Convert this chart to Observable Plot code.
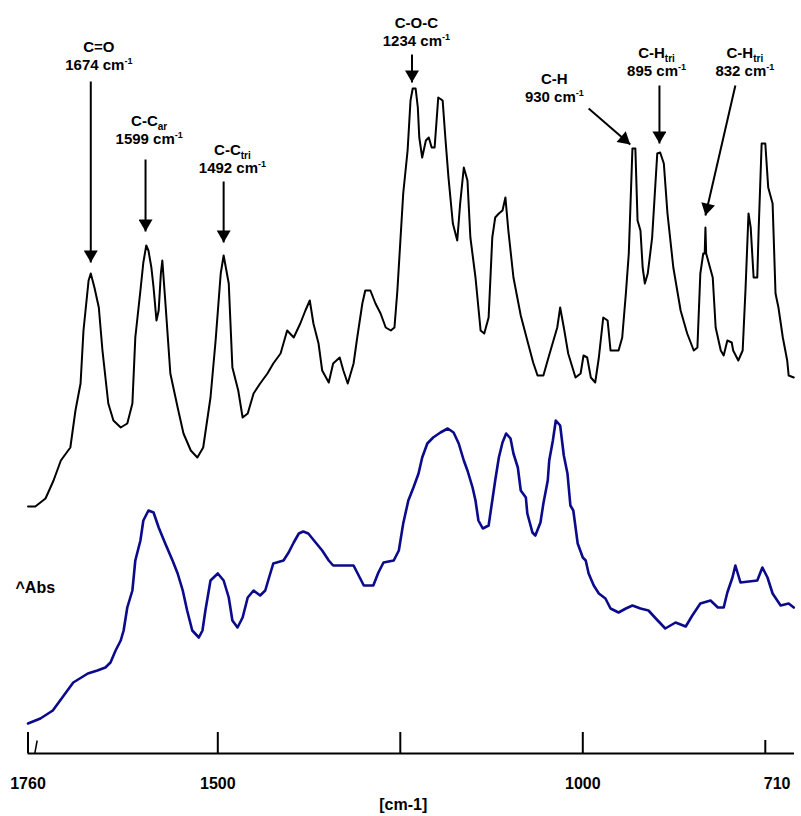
<!DOCTYPE html>
<html>
<head>
<meta charset="utf-8">
<script src="https://cdn.jsdelivr.net/npm/d3@7"></script>
<script src="https://cdn.jsdelivr.net/npm/@observablehq/plot@0.6"></script>
<style>
  html, body { margin: 0; padding: 0; background: #fff; }
  #chart svg { display: block; }
</style>
</head>
<body>
<div id="chart"></div>
<script>
// Upper spectrum (black): wavenumber [cm-1] and absorbance (arbitrary units, offset)
const blackWavenumber = [1760,1750,1736,1725,1715,1702,1695,1688,1684,1677,1674,1669,1663,1658,1650,1643,1633,1624,1617,1613,1606,1602,1598,1595,1591,1588,1584,1581,1578,1576,1572,1565,1555,1547,1537,1528,1520,1510,1503,1496,1492,1485,1480,1472,1466,1459,1451,1442,1432,1424,1414,1405,1396,1387,1380,1374,1369,1362,1357,1348,1342,1333,1328,1322,1314,1309,1302,1298,1291,1284,1277,1270,1263,1258,1254,1246,1240,1236,1233,1229,1226,1224,1220,1215,1211,1207,1203,1199,1198,1192,1188,1184,1178,1172,1168,1163,1158,1154,1147,1140,1135,1129,1124,1120,1115,1110,1106,1102,1095,1085,1076,1068,1062,1054,1047,1035,1031,1026,1020,1010,1003,999,994,989,983,978,972,966,962,951,946,941,937,932,928,925,921,918,915,911,905,898,894,889,884,876,866,857,848,843,839,835,833,832,831,822,818,811,807,802,796,794,787,781,777,773,770,766,761,759,755,750,746,740,736,732,726,720,718,711];
const blackAbsorbance = [2.47,2.47,2.55,2.73,2.93,3.06,3.43,3.70,4.23,4.73,4.80,4.66,4.46,4.03,3.50,3.33,3.26,3.30,3.50,4.16,4.63,4.91,5.08,5.03,4.86,4.66,4.33,4.43,4.80,4.93,4.53,3.80,3.46,3.20,3.03,2.96,3.06,3.56,4.13,4.80,4.98,4.70,3.86,3.63,3.36,3.40,3.60,3.70,3.80,3.90,4.00,4.23,4.16,4.30,4.43,4.53,4.30,4.10,3.83,3.71,3.90,3.96,3.83,3.70,3.90,4.16,4.50,4.63,4.63,4.50,4.40,4.26,4.23,4.26,4.63,5.60,6.03,6.53,6.65,6.65,6.46,6.16,5.96,6.13,6.16,6.06,6.06,6.46,6.56,6.53,6.13,5.76,5.30,5.13,5.50,5.86,5.73,5.16,4.76,4.23,4.20,4.36,5.16,5.36,5.40,5.43,5.56,5.23,4.76,4.38,4.13,3.91,3.78,3.78,3.96,4.26,4.46,4.26,4.00,3.76,3.80,3.98,3.96,3.76,3.71,3.96,4.36,4.33,4.03,4.03,4.16,4.60,5.00,6.05,6.05,5.33,5.23,4.86,4.70,4.80,5.16,6.00,6.01,5.90,5.40,4.86,4.43,4.20,4.03,4.06,4.80,5.00,5.00,5.26,5.00,4.76,4.26,4.03,3.98,4.13,4.11,4.03,3.93,4.03,4.66,5.40,5.26,4.76,4.76,5.26,6.10,6.10,5.66,5.50,4.60,4.46,4.16,3.93,3.78,3.76];

// Lower spectrum (blue)
const blueWavenumber = [1760,1743,1726,1713,1698,1678,1665,1654,1647,1640,1633,1629,1624,1617,1613,1606,1602,1595,1588,1581,1572,1562,1555,1548,1542,1535,1526,1521,1517,1510,1500,1492,1485,1480,1473,1466,1459,1451,1442,1435,1431,1424,1410,1403,1396,1389,1383,1376,1366,1357,1348,1342,1314,1307,1300,1287,1280,1273,1259,1252,1246,1239,1232,1225,1220,1213,1205,1195,1185,1177,1170,1163,1158,1151,1147,1143,1137,1129,1124,1120,1115,1110,1105,1099,1095,1089,1085,1078,1076,1069,1065,1058,1054,1048,1046,1041,1037,1031,1026,1021,1017,1013,1007,1000,996,992,985,978,969,962,951,941,932,921,910,900,887,873,859,850,839,825,815,807,802,795,791,784,761,754,747,740,729,718,711];
const blueAbsorbance = [0.30,0.35,0.43,0.56,0.71,0.80,0.83,0.86,0.91,1.03,1.13,1.23,1.46,1.63,1.93,2.13,2.33,2.43,2.41,2.26,2.10,1.93,1.80,1.63,1.43,1.23,1.16,1.23,1.43,1.73,1.80,1.73,1.56,1.33,1.26,1.36,1.56,1.63,1.58,1.63,1.73,1.90,1.93,2.01,2.11,2.20,2.22,2.20,2.11,2.03,1.93,1.88,1.88,1.78,1.68,1.68,1.81,1.91,1.93,2.03,2.30,2.53,2.66,2.80,2.96,3.10,3.16,3.21,3.25,3.21,3.10,2.93,2.83,2.66,2.53,2.33,2.25,2.28,2.53,2.73,2.96,3.11,3.20,3.15,3.00,2.86,2.63,2.56,2.40,2.21,2.18,2.31,2.50,2.73,2.93,3.13,3.33,3.28,2.98,2.80,2.48,2.43,2.10,1.96,1.93,1.80,1.68,1.60,1.55,1.45,1.41,1.45,1.48,1.45,1.43,1.35,1.25,1.31,1.27,1.38,1.50,1.53,1.46,1.46,1.61,1.76,1.88,1.71,1.73,1.86,1.76,1.60,1.48,1.50,1.46];

// Band assignments
const bandName = ["C=O", "C-C", "C-C", "C-O-C", "C-H", "C-H", "C-H"];
const bandSub = ["", "ar", "tri", "", "", "tri", "tri"];
const bandPeak = [1674, 1599, 1492, 1234, 930, 895, 832];
const labelWavenumber = [1663, 1594, 1480, 1228, 1039, 899, 778];
const labelAbsorbance = [7.02, 6.28, 5.99, 7.26, 6.70, 6.96, 6.96];
const arrowTailWavenumber = [1674, 1599, 1492, 1234, 992, 895, 791];
const arrowTailAbsorbance = [6.72, 5.94, 5.72, 6.99, 6.45, 6.68, 6.68];
const arrowTipWavenumber = [1674, 1599, 1492, 1234, 935, 895, 832];
const arrowTipAbsorbance = [4.91, 5.22, 5.11, 6.71, 6.09, 6.10, 5.38];

// Axis
const majorTicks = [1760, 1500, 1250, 1000];
const minorTicks = [750];
const tickLabels = [1760, 1500, 1000, 710];
const axisTitle = "[cm-1]";
const yLabel = "^Abs";

const black = d3.range(blackWavenumber.length);
const blue = d3.range(blueWavenumber.length);
const bands = d3.range(bandName.length);
const font = {fontSize: 15, fontWeight: "bold", lineAnchor: "bottom"};

const svg = Plot.plot({
  width: 801,
  height: 816,
  marginLeft: 27.5,
  marginRight: 7,
  marginTop: 23,
  marginBottom: 63,
  x: {domain: [1760, 710], axis: null},
  y: {domain: [0, 7.3], axis: null},
  style: {fontFamily: "'Liberation Sans', Arial, sans-serif", color: "#000", background: "#fff"},
  marks: [
    // spectra
    Plot.line(black, {x: i => blackWavenumber[i], y: i => blackAbsorbance[i], stroke: "#000", strokeWidth: 2}),
    Plot.line(blue, {x: i => blueWavenumber[i], y: i => blueAbsorbance[i], stroke: "#0a0a8a", strokeWidth: 2.6}),
    // band labels
    Plot.text(bands, {x: i => labelWavenumber[i], y: i => labelAbsorbance[i], text: i => bandName[i] + bandSub[i], ...font}),
    Plot.text(bands, {x: i => labelWavenumber[i], y: i => labelAbsorbance[i], dy: 18, text: i => `${bandPeak[i]} cm-1`, ...font}),
    Plot.link(bands, {
      x1: i => arrowTailWavenumber[i], y1: i => arrowTailAbsorbance[i],
      x2: i => arrowTipWavenumber[i], y2: i => arrowTipAbsorbance[i],
      stroke: "#000", strokeWidth: 2, markerEnd: "arrow"
    }),
    // x axis
    Plot.ruleY([0], {stroke: "#000", strokeWidth: 2}),
    Plot.ruleX(majorTicks, {x: d => d, y1: 0, y2: 0.21, stroke: "#000", strokeWidth: 2}),
    Plot.ruleX(minorTicks, {x: d => d, y1: 0, y2: 0.13, stroke: "#000", strokeWidth: 2}),
    Plot.link([0], {x1: 1750.7, y1: 0, x2: 1747.4, y2: 0.13, stroke: "#000", strokeWidth: 1.5}),
    Plot.text(tickLabels.slice(0, -1), {x: d => d, y: 0, dy: 35, text: d => String(d), fontSize: 16, fontWeight: "bold", lineAnchor: "bottom"}),
    Plot.text(tickLabels.slice(-1), {x: d => d, y: 0, dy: 35, dx: -4, text: d => String(d), textAnchor: "end", fontSize: 16, fontWeight: "bold", lineAnchor: "bottom"}),
    Plot.text([axisTitle], {x: 1246, y: 0, dy: 56, text: d => d, fontSize: 16, fontWeight: "bold", lineAnchor: "bottom"}),
    Plot.text([yLabel], {frameAnchor: "left", dx: -12.5, y: 1.61, text: d => d, textAnchor: "start", fontSize: 16, fontWeight: "bold", lineAnchor: "bottom"})
  ]
});

// Filled triangular arrowheads
d3.select(svg).selectAll("marker").each(function () {
  const m = d3.select(this);
  m.attr("viewBox", "-13 -7 14 14")
    .attr("markerWidth", 14)
    .attr("markerHeight", 14)
    .attr("markerUnits", "userSpaceOnUse")
    .attr("refX", 0).attr("refY", 0)
    .attr("fill", "#000").attr("stroke", "none");
  m.selectAll("*").remove();
  m.append("path").attr("d", "M-12,-7L0,0L-12,7Z");
});

// Sub- and superscripts in the band labels
function splitScript(node, main, extra, kind) {
  const s = d3.select(node);
  s.text(null);
  s.append("tspan").text(main);
  s.append("tspan")
    .attr("font-size", kind === "sup" ? 9 : 10)
    .attr("dy", kind === "sup" ? -6 : 4)
    .text(extra);
}
d3.select(svg).selectAll("text").each(function () {
  const t = this.textContent;
  const m = /^(\d+ cm)-1$/.exec(t);
  if (m) { splitScript(this, m[1], "-1", "sup"); return; }
  const i = bandName.findIndex((n, k) => bandSub[k] && n + bandSub[k] === t);
  if (i >= 0) splitScript(this, bandName[i], bandSub[i], "sub");
});

document.getElementById("chart").appendChild(svg);
</script>
</body>
</html>
